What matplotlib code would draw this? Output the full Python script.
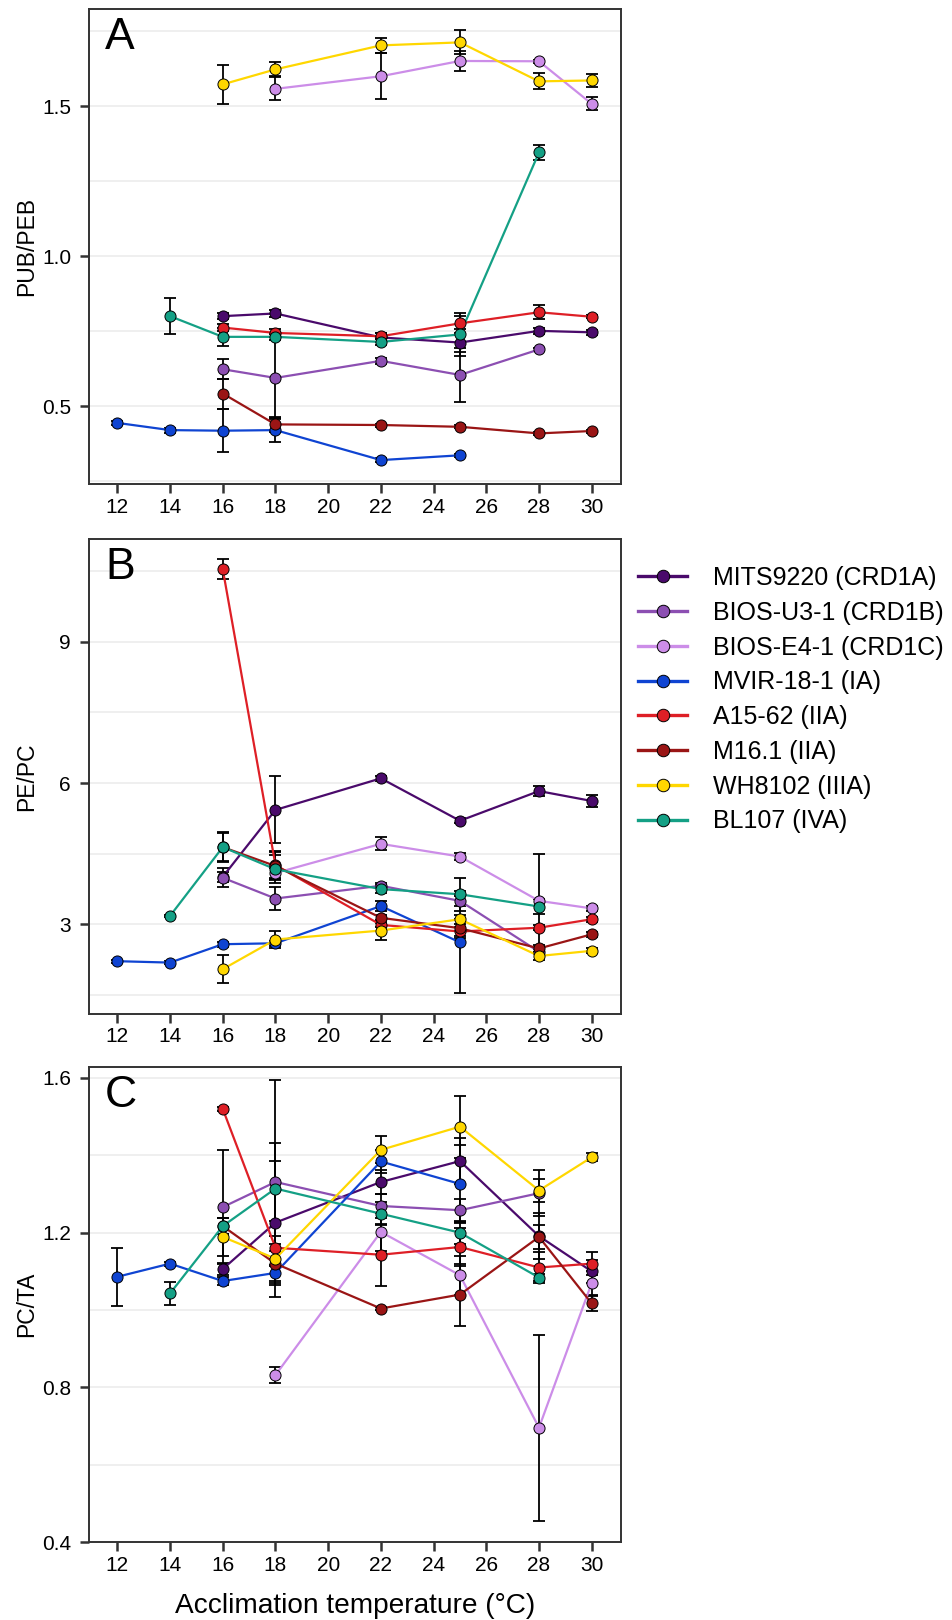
import matplotlib
matplotlib.use("Agg")
import matplotlib.pyplot as plt
import numpy as np
from matplotlib.lines import Line2D
from matplotlib.ticker import MultipleLocator

plt.rcParams["font.family"] = ["Liberation Sans", "DejaVu Sans"]

n = np.nan

temps = [12, 14, 16, 18, 22, 25, 28, 30]
strains = ["MITS9220 (CRD1A)", "BIOS-U3-1 (CRD1B)", "BIOS-E4-1 (CRD1C)", "MVIR-18-1 (IA)",
           "A15-62 (IIA)", "M16.1 (IIA)", "WH8102 (IIIA)", "BL107 (IVA)"]
colors = ["#4a0a6b", "#8c4fb2", "#cc8de8", "#0f44d2", "#de1f26", "#9a1515", "#ffd700", "#14a085"]

# panel A: PUB/PEB
pubpeb_mean = [
    [n, n, 0.800, 0.809, 0.729, 0.712, 0.751, 0.746],
    [n, n, 0.623, 0.594, 0.651, 0.604, 0.689, n],
    [n, n, n, 1.558, 1.600, 1.651, 1.650, 1.508],
    [0.444, 0.420, 0.418, 0.420, 0.320, 0.336, n, n],
    [n, n, 0.762, 0.744, 0.733, 0.776, 0.813, 0.798],
    [n, n, 0.542, 0.439, 0.437, 0.431, 0.409, 0.417],
    [n, n, 1.573, 1.623, 1.703, 1.713, 1.583, 1.586],
    [n, 0.800, 0.731, 0.731, 0.714, 0.739, 1.346, n],
]
pubpeb_err = [
    [n, n, 0.010, 0.012, 0.015, 0.045, 0.010, 0.008],
    [n, n, 0.033, 0.136, 0.010, 0.090, 0.005, n],
    [n, n, n, 0.038, 0.076, 0.033, 0.005, 0.022],
    [0.008, 0.008, 0.071, 0.039, 0.008, 0.005, n, n],
    [n, n, 0.012, 0.012, 0.010, 0.033, 0.024, 0.005],
    [n, n, 0.050, 0.025, 0.005, 0.005, 0.005, 0.005],
    [n, n, 0.064, 0.023, 0.025, 0.040, 0.027, 0.023],
    [n, 0.060, 0.030, 0.010, 0.010, 0.060, 0.026, n],
]

# panel B: PE/PC
pepc_mean = [
    [n, n, 4.01, 5.43, 6.10, 5.20, 5.83, 5.62],
    [n, n, 3.99, 3.55, 3.82, 3.50, 2.42, n],
    [n, n, n, 4.09, 4.71, 4.44, 3.50, 3.34],
    [2.22, 2.19, 2.58, 2.60, 3.39, 2.62, n, n],
    [n, n, 10.54, 4.26, 2.99, 2.85, 2.93, 3.11],
    [n, n, 4.64, 4.24, 3.14, 2.92, 2.49, 2.79],
    [n, n, 2.05, 2.68, 2.87, 3.11, 2.33, 2.44],
    [n, 3.18, 4.64, 4.17, 3.75, 3.64, 3.38, n],
]
pepc_err = [
    [n, n, 0.10, 0.71, 0.05, 0.05, 0.10, 0.12],
    [n, n, 0.20, 0.25, 0.05, 0.10, 0.05, n],
    [n, n, n, 0.10, 0.14, 0.08, 1.00, 0.05],
    [0.03, 0.03, 0.05, 0.05, 0.10, 1.08, n, n],
    [n, n, 0.22, 0.30, 0.05, 0.10, 0.05, 0.05],
    [n, n, 0.30, 0.30, 0.05, 0.20, 0.08, 0.05],
    [n, n, 0.30, 0.17, 0.20, 0.10, 0.08, 0.05],
    [n, 0.03, 0.32, 0.30, 0.08, 0.35, 0.15, n],
]

# panel C: PC/TA
pcta_mean = [
    [n, n, 1.106, 1.226, 1.331, 1.385, 1.191, 1.100],
    [n, n, 1.266, 1.331, 1.269, 1.258, 1.302, n],
    [n, n, n, 0.832, 1.202, 1.090, 0.696, 1.070],
    [1.086, 1.120, 1.075, 1.096, 1.384, 1.326, n, n],
    [n, n, 1.520, 1.161, 1.143, 1.163, 1.110, 1.120],
    [n, n, 1.217, 1.120, 1.004, 1.040, 1.189, 1.017],
    [n, n, 1.189, 1.133, 1.414, 1.474, 1.309, 1.395],
    [n, 1.043, 1.217, 1.314, 1.249, 1.200, 1.084, n],
]
pcta_err = [
    [n, n, 0.015, 0.160, 0.030, 0.060, 0.060, 0.030],
    [n, n, 0.148, 0.100, 0.030, 0.030, 0.060, n],
    [n, n, n, 0.020, 0.050, 0.050, 0.240, 0.030],
    [0.075, 0.005, 0.010, 0.020, 0.030, 0.100, n, n],
    [n, n, 0.005, 0.030, 0.080, 0.050, 0.040, 0.030],
    [n, n, 0.020, 0.050, 0.005, 0.080, 0.030, 0.020],
    [n, n, 0.050, 0.020, 0.035, 0.080, 0.030, 0.010],
    [n, 0.030, 0.020, 0.280, 0.030, 0.030, 0.010, n],
]

panels = [
    ("A", "PUB/PEB", pubpeb_mean, pubpeb_err, (0.239, 1.823), 0.5, 0.25),
    ("B", "PE/PC", pepc_mean, pepc_err, (1.1, 11.18), 3, 1.5),
    ("C", "PC/TA", pcta_mean, pcta_err, (0.4, 1.6275), 0.4, 0.2),
]
bottoms = [0.7010, 0.3741, 0.0480]

fig = plt.figure(figsize=(9.52, 16.2), dpi=100)
x = np.array(temps, dtype=float)

for (letter, ylabel, means, errs, ylim, major, minor), bottom in zip(panels, bottoms):
    ax = fig.add_axes([0.0932, bottom, 0.5588, 0.2932])
    for mean, err, color in zip(means, errs, colors):
        mean = np.array(mean, dtype=float)
        err = np.array(err, dtype=float)
        ok = np.isfinite(mean)
        ax.errorbar(x[ok], mean[ok], yerr=err[ok], fmt="none", ecolor="black",
                    elinewidth=1.3, capsize=4, capthick=1.3, zorder=2)
        ax.plot(x[ok], mean[ok], color=color, lw=1.6, zorder=3)
    for mean, color in zip(means, colors):
        mean = np.array(mean, dtype=float)
        ok = np.isfinite(mean)
        ax.plot(x[ok], mean[ok], ls="none", marker="o", ms=8, mfc=color,
                mec="black", mew=0.7, zorder=4)

    ax.set_xlim(10.915, 31.10)
    ax.set_ylim(*ylim)
    ax.set_xticks(range(12, 31, 2))
    ax.yaxis.set_major_locator(MultipleLocator(major))
    ax.yaxis.set_minor_locator(MultipleLocator(minor))
    ax.grid(axis="y", which="both", color="#ebebeb", lw=1.1, zorder=0)
    ax.set_axisbelow(True)
    ax.tick_params(axis="both", which="major", direction="out", length=6.7, width=1.8,
                   color="#333333", labelsize=15)
    ax.tick_params(axis="x", which="major", pad=3)
    ax.tick_params(axis="y", which="major", pad=6)
    ax.tick_params(axis="y", which="minor", length=0)
    for s in ax.spines.values():
        s.set_color("#333333")
        s.set_linewidth(1.4)
    ax.set_ylabel(ylabel, fontsize=16.5)
    ax.yaxis.set_label_coords(-0.0953, 0.5)
    ax.text(0.0306, 0.984, letter, transform=ax.transAxes, fontsize=32,
            va="top", ha="left")
    if letter == "C":
        ax.set_xlabel("Acclimation temperature (°C)", fontsize=20.2, labelpad=13)

handles = [Line2D([], [], color=c, lw=2.4, marker="o", ms=9, mfc=c, mec="black", mew=0.7)
           for c in colors]
fig.legend(handles, strains, loc="upper left", bbox_to_anchor=(0.6705, 0.6506),
           frameon=False, fontsize=18, handlelength=1.94, handletextpad=1.06,
           labelspacing=0.43, borderpad=0, borderaxespad=0)

fig.savefig("out.png", dpi=100)
